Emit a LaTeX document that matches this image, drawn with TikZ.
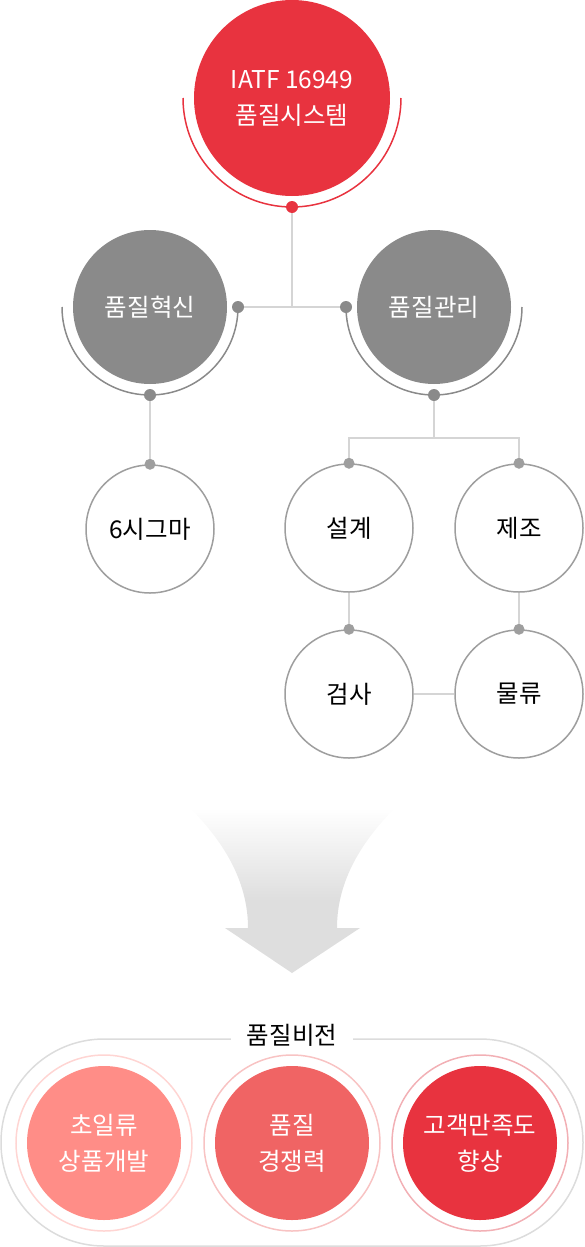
\documentclass[tikz,border=0pt]{standalone}
\usepackage{fontspec}
\setmainfont{Noto Sans CJK KR}
\definecolor{topred}{HTML}{E8333F}
\definecolor{hubgray}{HTML}{8A8A8A}
\definecolor{leafgray}{HTML}{9E9E9E}
\definecolor{linegray}{HTML}{D5D5D5}
\definecolor{arrowgray}{HTML}{DEDEDE}
\definecolor{boxgray}{HTML}{DCDCDC}
\definecolor{visA}{HTML}{FF8D87}
\definecolor{visB}{HTML}{F06464}
\definecolor{ringA}{HTML}{FFD5D3}
\definecolor{ringB}{HTML}{F8C3C3}
\definecolor{ringC}{HTML}{F2B0B5}
\pgfdeclareverticalshading{arrowfade}{100bp}{color(0bp)=(arrowgray); color(47bp)=(arrowgray); color(75bp)=(white); color(100bp)=(white)}
\begin{document}
\begin{tikzpicture}[x=1pt, y=1pt,
    ktext/.style={font=\fontsize{24.5}{36}\selectfont, align=center},
    mainbox/.style={circle, fill=topred, text=white, minimum size=196pt, inner sep=0pt, ktext},
    hub/.style={circle, fill=hubgray, text=white, minimum size=154pt, inner sep=0pt, ktext},
    leaf/.style={circle, draw=leafgray, line width=1.5pt, fill=white, minimum size=128pt, inner sep=0pt, ktext},
    vision/.style={circle, text=white, minimum size=154pt, inner sep=0pt, ktext},
    joint/.style={circle, fill=#1, inner sep=0pt, minimum size=11pt},
    link/.style={draw=linegray, line width=1.5pt},
    ring/.style={line width=1.5pt}]
    \useasboundingbox (0,0) rectangle (584,-1247);

    % Top system circle
    \node[mainbox] (iatf) at (292,-98) {IATF 16949\\품질시스템};
    \draw[ring, topred] (iatf.center) ++(-109,0) arc[start angle=180, end angle=360, radius=109];

    % Two hubs
    \node[hub] (inno) at (150,-307) {품질혁신};
    \node[hub] (mgmt) at (434,-307) {품질관리};
    \draw[ring, hubgray] (inno.center) ++(-88,0) arc[start angle=180, end angle=360, radius=88];
    \draw[ring, hubgray] (mgmt.center) ++(-88,0) arc[start angle=180, end angle=360, radius=88];

    % Leaves
    \node[leaf] (sigma) at (150,-529) {6시그마};
    \node[leaf] (design) at (349,-528) {설계};
    \node[leaf] (manuf) at (519,-528) {제조};
    \node[leaf] (insp) at (349,-694) {검사};
    \node[leaf] (logi) at (519,-694) {물류};

    % Joints on the arcs and circles
    \node[joint=topred, minimum size=12pt] (iatfB) at (292,-207) {};
    \node[joint=hubgray, minimum size=12pt] (innoR) at (238,-307) {};
    \node[joint=hubgray, minimum size=12pt] (innoB) at (150,-395) {};
    \node[joint=hubgray, minimum size=12pt] (mgmtL) at (346,-307) {};
    \node[joint=hubgray, minimum size=12pt] (mgmtB) at (434,-395) {};
    \node[joint=leafgray] (sigmaT) at (sigma.north) {};
    \node[joint=leafgray] (designT) at (design.north) {};
    \node[joint=leafgray] (manufT) at (manuf.north) {};
    \node[joint=leafgray] (inspT) at (insp.north) {};
    \node[joint=leafgray] (logiT) at (logi.north) {};
    \coordinate (split) at (434,-438);

    % Connectors
    \draw[link] (iatfB) |- (innoR);
    \draw[link] (iatfB) |- (mgmtL);
    \draw[link] (innoB) -- (sigmaT);
    \draw[link] (mgmtB) -- (split);
    \draw[link] (split) -| (designT);
    \draw[link] (split) -| (manufT);
    \draw[link] (design) -- (inspT);
    \draw[link] (manuf) -- (logiT);
    \draw[link] (insp) -- (logi);

    % Down arrow
    \shade[shading=arrowfade] (190,-808) .. controls (232,-850) and (248,-890) .. (248,-928)
        -- (225,-928) -- (292,-973) -- (360,-928) -- (337,-928)
        .. controls (337,-890) and (353,-850) .. (395,-808) -- cycle;

    % Quality vision
    \node[draw=boxgray, line width=1.5pt, rounded corners=103pt, minimum width=582pt,
        minimum height=207pt] (visionbox) at (292,-1142.5) {};
    \node[fill=white, inner xsep=16pt, ktext] (visiontitle) at (292,-1035) {품질비전};
    \node[vision, fill=visA] (first) at (104,-1143) {\fontsize{24.5}{38}\selectfont 초일류\\상품개발};
    \node[vision, fill=visB] (compete) at (292,-1143) {\fontsize{24.5}{38}\selectfont 품질\\경쟁력};
    \node[vision, fill=topred] (satis) at (480,-1143) {\fontsize{24.5}{38}\selectfont 고객만족도\\향상};
    \draw[ring, ringA] (first) circle[radius=88];
    \draw[ring, ringB] (compete) circle[radius=88];
    \draw[ring, ringC] (satis) circle[radius=88];
\end{tikzpicture}
\end{document}
